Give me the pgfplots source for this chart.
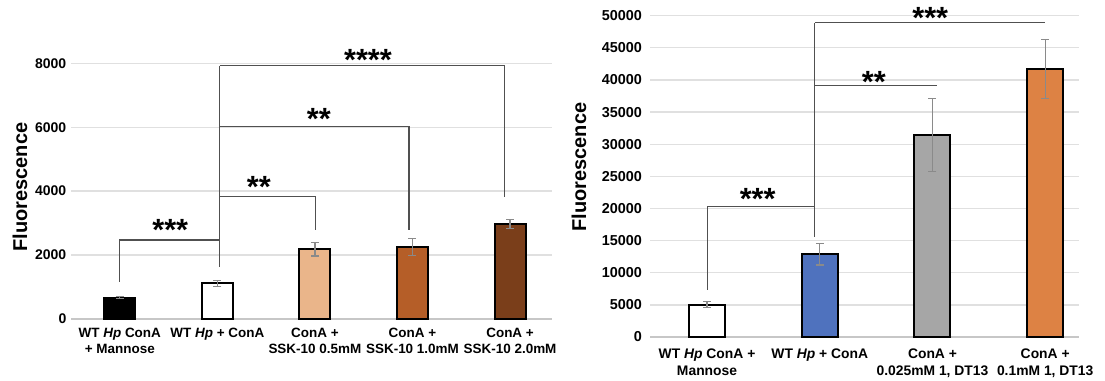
\documentclass[border=0pt]{standalone}
\usepackage{fontspec}
\setmainfont{Liberation Sans}
\usepackage{pgfplots}
\pgfplotsset{compat=1.18}
\definecolor{lpeach}{HTML}{EAB58A}
\definecolor{lorange}{HTML}{B55E28}
\definecolor{lbrown}{HTML}{7A3E1A}
\definecolor{rblue}{HTML}{4F72BE}
\definecolor{rgray}{HTML}{A6A6A6}
\definecolor{rorange}{HTML}{DD8244}
\definecolor{errc}{HTML}{8A8A8A}
\definecolor{brkc}{HTML}{505050}
\pgfplotsset{
  common/.style={
    scale only axis, clip=false,
    axis x line*=bottom, axis y line*=left,
    y axis line style={draw=none},
    x axis line style={draw=black!22, line width=1pt, -},
    ymajorgrids, major grid style={draw=black!12, line width=1pt},
    major tick length=0pt, tick style={draw=none},
    /pgf/number format/assume math mode=true,
    /pgf/number format/1000 sep={},
    scaled y ticks=false,
    xtick={0,...,4},
  },
  bars/.style={ybar, bar shift=0pt, draw=black, line width=1.5pt,
    error bars/y dir=both, error bars/y explicit,
    error bars/error bar style={draw=errc, line width=1pt},
    error bars/error mark options={rotate=90, mark size=3pt, draw=errc, line width=1pt}},
}
\tikzset{
  brkline/.style={draw=brkc, line width=0.8pt},
  stars/.style={font=\fontsize{23}{23}\selectfont\bfseries, inner sep=0pt, anchor=north},
}
\begin{document}
\begin{tikzpicture}
\useasboundingbox (0,0) rectangle (828.75pt,285.75pt);
% ---------------- left panel ----------------
\begin{axis}[common,
  at={(53.25pt,46.5pt)}, anchor=south west,
  width=360.75pt, height=191.8pt,
  xmin=-0.5, xmax=4.43, ymin=0, ymax=8000,
  ytick={0,2000,4000,6000,8000},
  bar width=23.25pt,
  yticklabel style={font=\fontsize{10.5}{12}\selectfont\bfseries},
  xticklabel style={align=center, font=\fontsize{10.1}{12}\selectfont\bfseries, yshift=-3pt},
  xticklabels={{WT \textit{Hp} ConA\\+ Mannose},{WT \textit{Hp} + ConA\\\strut},{ConA +\\SSK-10 0.5mM},{ConA +\\SSK-10 1.0mM},{ConA +\\SSK-10 2.0mM}},
  ylabel={Fluorescence},
  ylabel style={font=\fontsize{15}{18}\selectfont\bfseries, at={(axis description cs:-0.106,0.516)}, anchor=center},
]
\addplot[fill=black, bars] coordinates {(0,670) +- (0,30)};
\addplot[fill=white, bars] coordinates {(1,1115) +- (0,90)};
\addplot[fill=lpeach, bars] coordinates {(2,2177) +- (0,210)};
\addplot[fill=lorange, bars] coordinates {(3,2250) +- (0,260)};
\addplot[fill=lbrown, bars] coordinates {(4,2979) +- (0,140)};
\draw[brkline] (axis cs:0,1167) -- (axis cs:0,2472) -- (axis cs:1.023,2472);
\draw[brkline] (axis cs:1.023,1636) -- (axis cs:1.023,7916);
\draw[brkline] (axis cs:1.023,3827) -- (axis cs:2.01,3827) -- (axis cs:2.01,2785);
\draw[brkline] (axis cs:1.023,6017) -- (axis cs:2.964,6017) -- (axis cs:2.964,2785);
\draw[brkline] (axis cs:1.023,7916) -- (axis cs:3.94,7916) -- (axis cs:3.94,3827);
\node[stars] at (axis cs:0.517,3138) {***};
\node[stars] at (axis cs:1.426,4462) {**};
\node[stars] at (axis cs:2.041,6611) {**};
\node[stars] at (axis cs:2.544,8438) {****};
\end{axis}
% ---------------- right panel ----------------
\begin{axis}[common,
  at={(487.5pt,33pt)}, anchor=south west,
  width=321.75pt, height=241pt,
  xmin=-0.506, xmax=3.30, ymin=0, ymax=50000,
  ytick={0,5000,...,50000},
  xtick={0,...,3},
  bar width=27pt,
  yticklabel style={font=\fontsize{10.8}{12.5}\selectfont\bfseries, xshift=-2.5pt},
  xticklabel style={align=center, font=\fontsize{10.4}{12.5}\selectfont\bfseries, yshift=-5.5pt},
  xticklabels={{WT \textit{Hp} ConA +\\Mannose},{WT \textit{Hp} + ConA\\\strut},{ConA +\\0.025mM 1, DT13},{ConA +\\0.1mM 1, DT13}},
  ylabel={Fluorescence},
  ylabel style={font=\fontsize{15}{18}\selectfont\bfseries, at={(axis description cs:-0.1655,0.529)}, anchor=center},
]
\addplot[fill=white, bars] coordinates {(0,5030) +- (0,450)};
\addplot[fill=rblue, bars] coordinates {(1,12850) +- (0,1650)};
\addplot[fill=rgray, bars] coordinates {(2,31450) +- (0,5650)};
\addplot[fill=rorange, bars] coordinates {(3,41660) +- (0,4600)};
\draw[brkline] (axis cs:0,7314) -- (axis cs:0,20280) -- (axis cs:0.957,20280);
\draw[brkline] (axis cs:0.957,15610) -- (axis cs:0.957,48910);
\draw[brkline] (axis cs:0.957,39100) -- (axis cs:2.04,39100);
\draw[brkline] (axis cs:0.957,48910) -- (axis cs:3.0,48910);
\node[stars] at (axis cs:0.449,23190) {***};
\node[stars] at (axis cs:1.48,41440) {**};
\node[stars] at (axis cs:1.98,51350) {***};
\end{axis}
\end{tikzpicture}
\end{document}
